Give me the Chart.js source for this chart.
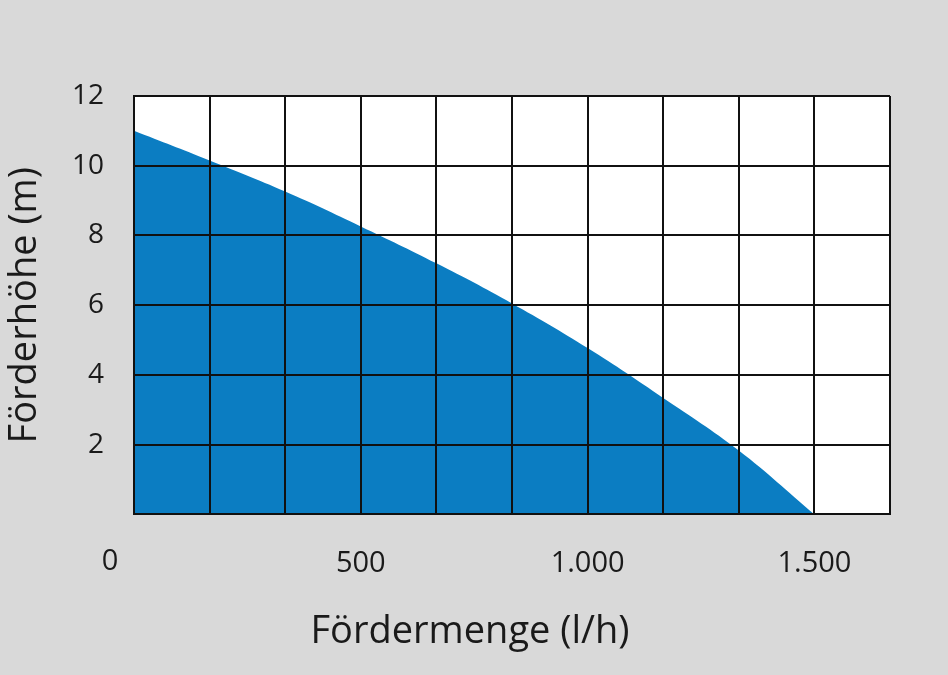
<!DOCTYPE html>
<html>
<head>
<meta charset="utf-8">
<script src="https://cdn.jsdelivr.net/npm/chart.js@4/dist/chart.umd.min.js"></script>
<style>
  html, body { margin: 0; padding: 0; background: #d9d9d9; }
  #wrap { width: 948px; height: 675px; }
</style>
</head>
<body>
<div id="wrap"><canvas id="kennlinie"></canvas></div>
<script>
// Förderkennlinie
var flowSteps = [0, 166.67, 333.33, 500, 666.67, 833.33, 1000, 1166.67, 1333.33, 1500];
var headValues = [11.0, 10.15, 9.26, 8.26, 7.2, 6.05, 4.77, 3.34, 1.83, 0];
var xGrid = [0, 166.67, 333.33, 500, 666.67, 833.33, 1000, 1166.67, 1333.33, 1500, 1666.67];
var xLabels = [500, 1000, 1500];

var font = "'Open Sans', 'Noto Sans', sans-serif";

function fmt(v) {
  return v.toLocaleString('de-DE');
}

var plotBg = {
  id: 'plotBg',
  afterLayout: function (chart) {
    // Achsentitel unten etwas links der Plotmitte
    if (chart.titleBlock) {
      chart.titleBlock.left = 0;
      chart.titleBlock.right = 940;
    }
  },
  beforeDraw: function (chart) {
    var a = chart.chartArea, ctx = chart.ctx;
    ctx.save();
    ctx.fillStyle = '#ffffff';
    ctx.fillRect(a.left, a.top, a.right - a.left, a.bottom - a.top);
    ctx.restore();
  },
  afterDraw: function (chart) {
    // "0" sitzt links neben der Achse
    var ctx = chart.ctx, x = chart.scales.x;
    ctx.save();
    ctx.font = '29px ' + font;
    ctx.fillStyle = '#1a1a1a';
    ctx.textAlign = 'center';
    ctx.textBaseline = 'middle';
    ctx.fillText('0', x.getPixelForValue(0) - 24, 562);
    ctx.restore();
  }
};

new Chart(document.getElementById('kennlinie'), {
  type: 'line',
  data: {
    datasets: [{
      data: flowSteps.map(function (q, i) { return { x: q, y: headValues[i] }; }),
      backgroundColor: '#0b7dc2',
      borderWidth: 0,
      pointRadius: 0,
      fill: 'origin',
      tension: 0.4
    }]
  },
  options: {
    responsive: true,
    maintainAspectRatio: false,
    animation: false,
    layout: { padding: { top: 96, right: 58, left: 0, bottom: 0 } },
    plugins: {
      legend: { display: false },
      tooltip: { enabled: false },
      title: {
        display: true,
        position: 'bottom',
        text: 'Fördermenge (l/h)',
        color: '#1a1a1a',
        font: { family: font, size: 38, weight: 'normal' },
        padding: { top: 0, bottom: 20 }
      }
    },
    scales: {
      x: {
        type: 'linear',
        min: 0,
        max: 1666.67,
        afterBuildTicks: function (s) { s.ticks = xGrid.map(function (v) { return { value: v }; }); },
        afterFit: function (s) { s.height = 95; },
        grid: { color: '#111111', lineWidth: 2, drawTicks: false, z: 1 },
        border: { color: '#111111', width: 2, z: 1 },
        ticks: {
          padding: 32,
          maxRotation: 0,
          autoSkip: false,
          color: '#1a1a1a',
          font: { family: font, size: 29 },
          callback: function (v) {
            for (var i = 0; i < xLabels.length; i++) {
              if (Math.abs(xLabels[i] - v) < 1) return fmt(xLabels[i]);
            }
            return '';
          }
        }
      },
      y: {
        min: 0,
        max: 12,
        afterFit: function (s) { s.width = 134; },
        grid: { color: '#111111', lineWidth: 2, drawTicks: false, z: 1 },
        border: { color: '#111111', width: 2, z: 1 },
        ticks: {
          stepSize: 2,
          padding: 30,
          color: '#1a1a1a',
          font: { family: font, size: 28 },
          callback: function (v) { return v === 0 ? '' : v; }
        },
        title: {
          display: true,
          text: 'Förderhöhe (m)',
          color: '#1a1a1a',
          font: { family: font, size: 38 },
          padding: { top: 2, bottom: 0 }
        }
      }
    }
  },
  plugins: [plotBg]
});
</script>
</body>
</html>
